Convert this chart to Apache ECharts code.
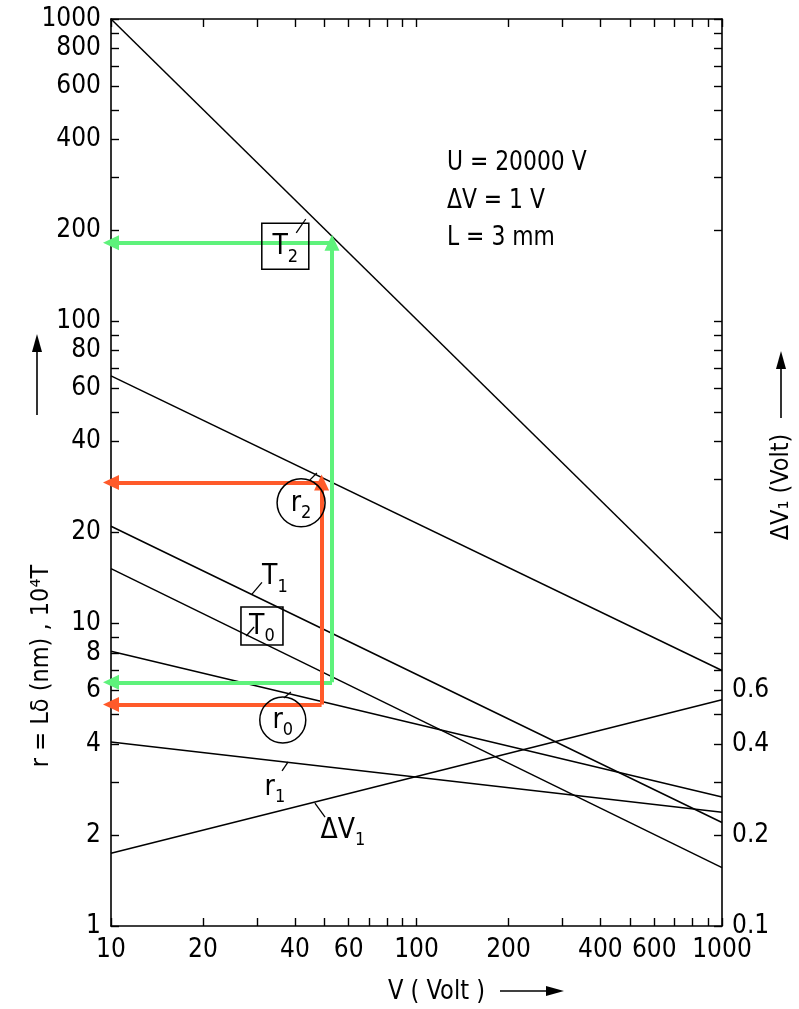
<!DOCTYPE html>
<html>
<head>
<meta charset="utf-8">
<title>r = Lδ, T, ΔV1 vs V</title>
<script src="https://cdn.jsdelivr.net/npm/echarts@6/dist/echarts.min.js"></script>
<style>
html,body{margin:0;padding:0;background:#fff;}
#chart{width:799px;height:1009px;}
</style>
</head>
<body>
<div id="chart"></div>
<script>
var FONT = '"DejaVu Sans Condensed", "Liberation Sans", sans-serif';

// V (Volt) at the two ends of every (straight, log-log) curve
var volts = [10, 1000];
// left axis  r = Lδ (nm), 10^4 T
var T2 = [1000, 10.3];
var r2 = [66, 7.0];
var T1 = [21, 2.2];
var T0 = [15.2, 1.56];
var r0 = [8.1, 2.67];
var r1 = [4.06, 2.38];
// right axis  ΔV1 (Volt)
var dV1 = [0.174, 0.56];

// ticks and labels
var xTicks = [10,20,30,40,50,60,70,80,90,100,200,300,400,500,600,700,800,900,1000];
var xLabels = [10,20,40,60,100,200,400,600,1000];
var yTicks = [1,2,3,4,5,6,7,8,9,10,20,30,40,50,60,70,80,90,100,200,300,400,500,600,700,800,900,1000];
var yLabels = [1,2,4,6,8,10,20,40,60,80,100,200,400,600,800,1000];
var y2Ticks = [0.1,0.2,0.3,0.4,0.5,0.6,0.7,0.8,0.9,1,2,3,4,5,6,7,8,9,10,20,30,40,50,60,70,80,90,100];
var y2Labels = [0.1,0.2,0.4,0.6];

// read-off paths (V, low value, high value)
var greenRead = [52.9, 6.4, 182];
var redRead = [48.9, 5.4, 29.3];

// curve labels: [V, value]
var labelT2 = [37.2, 177];
var labelR2 = [41.9, 25.1];
var labelT1 = [34.4, 14.3];
var labelT0 = [31.2, 9.83];
var labelR0 = [36.5, 4.8];
var labelR1 = [34.4, 2.88];
var labelDV1 = [57.4, 2.08];

// small leader strokes from labels to curves
var leaders = [
  [[40.4, 196], [43.4, 218]],
  [[44.8, 29.9], [47.2, 31.5]],
  [[28.9, 12.5], [31.2, 13.7]],
  [[27.7, 9.1], [29.4, 9.75]],
  [[36.8, 5.68], [38.8, 5.94]],
  [[36.3, 3.26], [38.0, 3.49]],
  [[46.5, 2.55], [50.2, 2.29]]
];

function pts(ys) {
  return volts.map(function (v, i) { return [v, ys[i]]; });
}

function readPath(r) {
  return [
    [{coord: [r[0], r[1]]}, {coord: [10, r[1]]}],
    [{coord: [r[0], r[1]]}, {coord: [r[0], r[2]]}],
    [{coord: [r[0], r[2]]}, {coord: [10, r[2]]}]
  ];
}

function plain(v) { return String(+(+v).toPrecision(6)); }

var axisLine = {show: true, lineStyle: {color: '#000', width: 1.6}};
var tickStyle = {color: '#000', width: 1.4};
var labelBase = {color: '#000', fontFamily: FONT, fontSize: 26, formatter: plain};

function xAx(pos, showLabel) {
  return {
    type: 'log', logBase: 10, min: 10, max: 1000, position: pos,
    axisLine: axisLine,
    axisTick: {show: true, inside: true, length: 8, lineStyle: tickStyle, customValues: xTicks},
    axisLabel: Object.assign({show: showLabel, margin: 11, customValues: xLabels}, labelBase),
    splitLine: {show: false}, minorTick: {show: false}
  };
}

var sub = {fontSize: 18, fontFamily: FONT, color: '#000', lineHeight: 18, padding: [15, 0, 0, 0], verticalAlign: 'top'};
var main = {fontSize: 28, fontFamily: FONT, color: '#000', lineHeight: 27, verticalAlign: 'top'};

function tag(pos, text, symbol, size) {
  var boxed = symbol !== 'plain';
  return {
    value: pos,
    symbol: boxed ? symbol : 'circle',
    symbolSize: size,
    itemStyle: {color: 'rgba(0,0,0,0)', borderColor: boxed ? '#000' : 'rgba(0,0,0,0)', borderWidth: 1.5, opacity: 1},
    label: {show: true, position: 'inside', color: '#000', opacity: 1, formatter: text, rich: {m: main, s: sub}}
  };
}

var blackLine = {color: '#000', width: 1.5};
function curve(name, ys, yIdx) {
  return {
    name: name, type: 'line', data: pts(ys), yAxisIndex: yIdx || 0,
    showSymbol: false, symbol: 'none', lineStyle: blackLine, silent: true
  };
}

var chart = echarts.init(document.getElementById('chart'));
var option = {
  animation: false,
  backgroundColor: '#fff',
  grid: {left: 111, right: 77, top: 19, bottom: 83},
  xAxis: [xAx('bottom', true), xAx('top', false)],
  yAxis: [
    {
      type: 'log', logBase: 10, min: 1, max: 1000, position: 'left',
      axisLine: axisLine,
      axisTick: {show: true, inside: true, length: 8, lineStyle: tickStyle, customValues: yTicks},
      axisLabel: Object.assign({margin: 10, customValues: yLabels}, labelBase),
      splitLine: {show: false}, minorTick: {show: false}
    },
    {
      type: 'log', logBase: 10, min: 0.1, max: 100, position: 'right',
      axisLine: axisLine,
      axisTick: {show: true, inside: true, length: 8, lineStyle: tickStyle, customValues: y2Ticks},
      axisLabel: Object.assign({margin: 10, customValues: y2Labels}, labelBase),
      splitLine: {show: false}, minorTick: {show: false}
    }
  ],
  series: [
    curve('T2', T2),
    curve('r2', r2),
    curve('T1', T1),
    curve('T0', T0),
    curve('r0', r0),
    curve('r1', r1),
    curve('ΔV1', dV1, 1),
    {
      name: 'leaders', type: 'line', data: [], silent: true,
      markLine: {
        silent: true, symbol: ['none', 'none'], animation: false,
        label: {show: false},
        lineStyle: {color: '#000', width: 1.3, type: 'solid'},
        data: leaders.map(function (l) { return [{coord: l[0]}, {coord: l[1]}]; })
      }
    },
    {
      name: 'green', type: 'line', data: [], silent: true,
      markLine: {
        silent: true, symbol: ['none', 'triangle'], symbolSize: [15, 16], animation: false,
        label: {show: false},
        lineStyle: {color: '#5ef27b', width: 4, type: 'solid', opacity: 1},
        data: readPath(greenRead)
      }
    },
    {
      name: 'red', type: 'line', data: [], silent: true,
      markLine: {
        silent: true, symbol: ['none', 'triangle'], symbolSize: [15, 16], animation: false,
        label: {show: false},
        lineStyle: {color: '#ff5a2a', width: 4, type: 'solid', opacity: 1},
        data: readPath(redRead)
      }
    },
    {
      name: 'tags', type: 'scatter', silent: true, z: 5,
      data: [
        tag(labelT2, '{m|T}{s|2}', 'rect', [47, 46]),
        tag(labelR2, '{m|r}{s|2}', 'circle', 48),
        tag(labelT1, '{m|T}{s|1}', 'plain', 2),
        tag(labelT0, '{m|T}{s|0}', 'rect', [42, 38]),
        tag(labelR0, '{m|r}{s|0}', 'circle', 46),
        tag(labelR1, '{m|r}{s|1}', 'plain', 2),
        tag(labelDV1, '{m|ΔV}{s|1}', 'plain', 2)
      ]
    }
  ],
  graphic: [
    {type: 'text', x: 447, y: 163, scaleX: 0.9, style: {text: 'U = 20000 V', font: '27px ' + FONT, fill: '#000', verticalAlign: 'middle'}},
    {type: 'text', x: 447, y: 201, scaleX: 0.9, style: {text: 'ΔV = 1 V', font: '27px ' + FONT, fill: '#000', verticalAlign: 'middle'}},
    {type: 'text', x: 447, y: 238, scaleX: 0.9, style: {text: 'L = 3 mm', font: '27px ' + FONT, fill: '#000', verticalAlign: 'middle'}},
    // x axis name + arrow
    {type: 'text', x: 388, y: 992, scaleX: 0.93, style: {text: 'V ( Volt )', font: '27px ' + FONT, fill: '#000', verticalAlign: 'middle'}},
    {type: 'line', shape: {x1: 500, y1: 991, x2: 552, y2: 991}, style: {stroke: '#000', lineWidth: 1.6}},
    {type: 'polygon', shape: {points: [[564, 991], [546, 986], [546, 996]]}, style: {fill: '#000'}},
    // left axis name + arrow
    {type: 'text', x: 41, y: 666, rotation: Math.PI / 2,
      style: {text: 'r = Lδ (nm) , 10⁴T', font: '25px ' + FONT, fill: '#000', align: 'center', verticalAlign: 'middle'}},
    {type: 'line', shape: {x1: 37, y1: 415, x2: 37, y2: 348}, style: {stroke: '#000', lineWidth: 1.6}},
    {type: 'polygon', shape: {points: [[37, 334], [32, 352], [42, 352]]}, style: {fill: '#000'}},
    // right axis name + arrow
    {type: 'text', x: 781, y: 487, rotation: Math.PI / 2,
      style: {text: 'ΔV₁ (Volt)', font: '25px ' + FONT, fill: '#000', align: 'center', verticalAlign: 'middle'}},
    {type: 'line', shape: {x1: 781, y1: 418, x2: 781, y2: 365}, style: {stroke: '#000', lineWidth: 1.6}},
    {type: 'polygon', shape: {points: [[781, 351], [776, 369], [786, 369]]}, style: {fill: '#000'}}
  ]
};
chart.setOption(option);
window.addEventListener('resize', function () { chart.resize(); });
</script>
</body>
</html>
